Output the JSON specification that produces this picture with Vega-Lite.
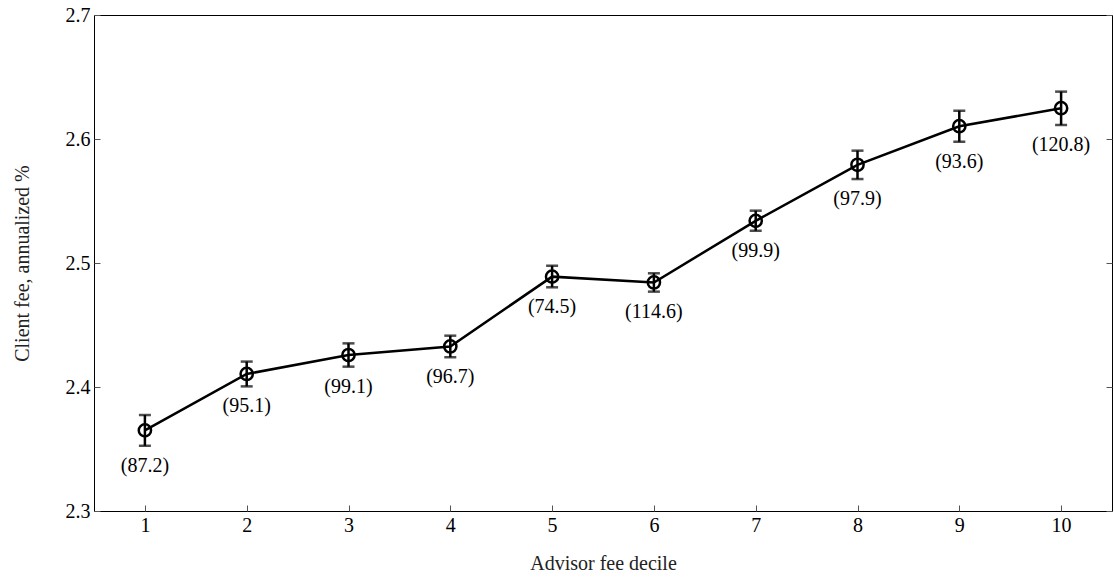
{
  "$schema": "https://vega.github.io/schema/vega-lite/v6.json",
  "width": 1018,
  "height": 496,
  "autosize": "none",
  "padding": {"left": 94, "top": 15, "right": 2, "bottom": 67},
  "background": "white",
  "config": {
    "view": {"stroke": "black", "strokeWidth": 1},
    "font": "Liberation Serif",
    "axis": {
      "labelFont": "Liberation Serif",
      "titleFont": "Liberation Serif",
      "labelFontSize": 20,
      "titleFontSize": 20,
      "titleFontWeight": "normal",
      "labelColor": "black",
      "titleColor": "#222",
      "domain": false,
      "grid": false,
      "tickColor": "#555",
      "tickSize": -6,
      "tickWidth": 1
    }
  },
  "data": {
    "values": [
      {"decile": 1, "fee": 2.365, "lo": 2.3526, "hi": 2.3774, "n": "(87.2)"},
      {"decile": 2, "fee": 2.4105, "lo": 2.4005, "hi": 2.4205, "n": "(95.1)"},
      {"decile": 3, "fee": 2.4258, "lo": 2.4164, "hi": 2.4352, "n": "(99.1)"},
      {"decile": 4, "fee": 2.4327, "lo": 2.424, "hi": 2.4414, "n": "(96.7)"},
      {"decile": 5, "fee": 2.489, "lo": 2.4804, "hi": 2.4978, "n": "(74.5)"},
      {"decile": 6, "fee": 2.4843, "lo": 2.4769, "hi": 2.4917, "n": "(114.6)"},
      {"decile": 7, "fee": 2.534, "lo": 2.526, "hi": 2.5422, "n": "(99.9)"},
      {"decile": 8, "fee": 2.5792, "lo": 2.5677, "hi": 2.5906, "n": "(97.9)"},
      {"decile": 9, "fee": 2.6103, "lo": 2.5978, "hi": 2.6228, "n": "(93.6)"},
      {"decile": 10, "fee": 2.6248, "lo": 2.6113, "hi": 2.6382, "n": "(120.8)"}
    ]
  },
  "encoding": {
    "x": {
      "field": "decile",
      "type": "quantitative",
      "scale": {"domain": [0.5, 10.5], "nice": false, "zero": false},
      "axis": {"values": [1,2,3,4,5,6,7,8,9,10], "title": "Advisor fee decile", "labelPadding": 10, "titlePadding": 18}
    }
  },
  "layer": [
    {
      "mark": {"type": "line", "color": "black", "strokeWidth": 2.5},
      "encoding": {
        "y": {
          "field": "fee",
          "type": "quantitative",
          "scale": {"domain": [2.3, 2.7], "nice": false, "zero": false},
          "axis": {"values": [2.3, 2.4, 2.5, 2.6, 2.7], "format": ".1f", "title": "Client fee, annualized %", "labelPadding": 10, "titlePadding": 33, "orient": "left"}
        }
      }
    },
    {
      "mark": {"type": "rule", "color": "black", "strokeWidth": 2.5},
      "encoding": {
        "y": {"field": "lo", "type": "quantitative", "axis": {"orient": "right", "values": [2.3, 2.4, 2.5, 2.6, 2.7], "labels": false, "title": null}},
        "y2": {"field": "hi"}
      }
    },
    {
      "mark": {"type": "tick", "color": "black", "orient": "horizontal", "size": 12, "thickness": 2.5},
      "encoding": {"y": {"field": "lo", "type": "quantitative", "axis": null}}
    },
    {
      "mark": {"type": "tick", "color": "black", "orient": "horizontal", "size": 12, "thickness": 2.5},
      "encoding": {"y": {"field": "hi", "type": "quantitative", "axis": null}}
    },
    {
      "mark": {"type": "point", "shape": "circle", "filled": false, "color": "black", "size": 150, "strokeWidth": 2.5, "opacity": 1},
      "encoding": {"y": {"field": "fee", "type": "quantitative", "axis": null}}
    },
    {
      "mark": {"type": "text", "color": "black", "fontSize": 20, "font": "Liberation Serif", "baseline": "middle", "align": "center", "dy": 20},
      "encoding": {"y": {"field": "lo", "type": "quantitative", "axis": null}, "text": {"field": "n"}}
    }
  ],
  "resolve": {"axis": {"y": "independent"}}
}
